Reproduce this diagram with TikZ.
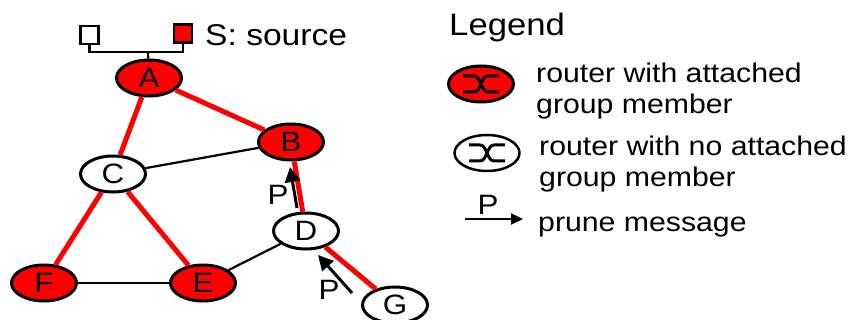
\documentclass[tikz,border=0pt]{standalone}
\usepackage{fontspec}
\setmainfont[FakeStretch=1.12]{Liberation Sans}
\usetikzlibrary{arrows.meta, shapes.geometric}
\tikzset{
    member/.style={draw, ellipse, fill=red, line width=3pt, minimum width=65pt, minimum height=36pt, inner sep=0pt},
    nomember/.style={member, fill=white},
    hostbox/.style={draw, line width=2.5pt, minimum size=18pt, inner sep=0pt},
    tree/.style={red, line width=5pt},
    plain/.style={line width=2.2pt},
    prune/.style={line width=3pt, -{Triangle[length=15pt, width=15pt]}},
    legendtext/.style={font=\fontsize{27}{30.5}\selectfont, inner sep=0pt, align=left},
    letter/.style={font=\fontsize{28}{30}\selectfont, inner sep=0pt},
}
\begin{document}
\begin{tikzpicture}[x=1pt, y=-1pt]
            \useasboundingbox (0,0) rectangle (850,320);

            % Free ends of the connectors
            \coordinate (lan) at (148,52);
            \coordinate (pbs) at (297,208);
            \coordinate (pbe) at (290,167);
            \coordinate (pgs) at (352,293);
            \coordinate (pge) at (318,255);
            \coordinate (ls) at (465,219);
            \coordinate (le) at (523,219);

            % Routers
            \node[member] (A) at (149,78) {};
            \node[member] (B) at (291,142) {};
            \node[nomember] (C) at (113,174) {};
            \node[nomember] (D) at (306,231) {};
            \node[member] (E) at (203,283) {};
            \node[member] (F) at (44,283) {};
            \node[nomember] (G) at (395,305) {};
            \node[letter] (Al) at (A) {A};
            \node[letter] (Bl) at (B) {B};
            \node[letter] (Cl) at (C) {C};
            \node[letter] (Dl) at (D) {D};
            \node[letter] (El) at (E) {E};
            \node[letter] (Fl) at (F) {F};
            \node[letter] (Gl) at (G) {G};

            % Hosts on the LAN above A
            \node[hostbox, fill=white] (h1) at (89.5,35) {};
            \node[hostbox, fill=red] (h2) at (183,33.5) {};
            \draw[plain] (h1) |- (lan);
            \draw[plain] (h2) |- (lan);
            \draw[plain] (lan) -- (A);
            \node[legendtext, anchor=west, font=\fontsize{30}{32}\selectfont] (src) at (205,35) {S: source};

            % Edges of the tree
            \draw[tree] (A) -- (B);
            \draw[tree] (A) -- (C);
            \draw[tree] (C) -- (F);
            \draw[tree] (C) -- (E);
            \draw[tree] (B) -- (D);
            \draw[tree] (D) -- (G);

            % Other links
            \draw[plain] (C) -- (B);
            \draw[plain] (F) -- (E);
            \draw[plain] (E) -- (D);

            % Prune messages
            \draw[prune] (pbs) -- (pbe);
            \draw[prune] (pgs) -- (pge);
            \node[letter] (P1) at (278,195) {P};
            \node[letter] (P2) at (329,290) {P};

            % Legend
            \node[legendtext, anchor=base west, font=\fontsize{31}{33}\selectfont] (legend) at (449,36) {Legend};
            \node[member] (lr) at (481,84) {};
            \node[nomember, line width=2.5pt] (lw) at (487,153) {};
            \foreach \n in {lr,lw} {
                \draw[line width=3pt] ([shift={(-18,-8)}]\n.center) -- ([shift={(-7,-8)}]\n.center)
                    .. controls ([shift={(0,-8)}]\n.center) and ([shift={(0,8)}]\n.center) .. ([shift={(7,8)}]\n.center)
                    -- ([shift={(18,8)}]\n.center);
                \draw[line width=3pt] ([shift={(-18,8)}]\n.center) -- ([shift={(-7,8)}]\n.center)
                    .. controls ([shift={(0,8)}]\n.center) and ([shift={(0,-8)}]\n.center) .. ([shift={(7,-8)}]\n.center)
                    -- ([shift={(18,-8)}]\n.center);
            }
            \node[legendtext, anchor=west] (tr) at (536,91) {router with attached\\group member};
            \node[legendtext, anchor=west] (tw) at (539,164) {router with no attached\\group member};
            \draw[line width=2pt, -{Triangle[length=12pt, width=11pt]}] (ls) -- (le);
            \node[letter] (P3) at (488,205) {P};
            \node[legendtext, anchor=base west] (tp) at (538,232) {prune message};
        \end{tikzpicture}
\end{document}
